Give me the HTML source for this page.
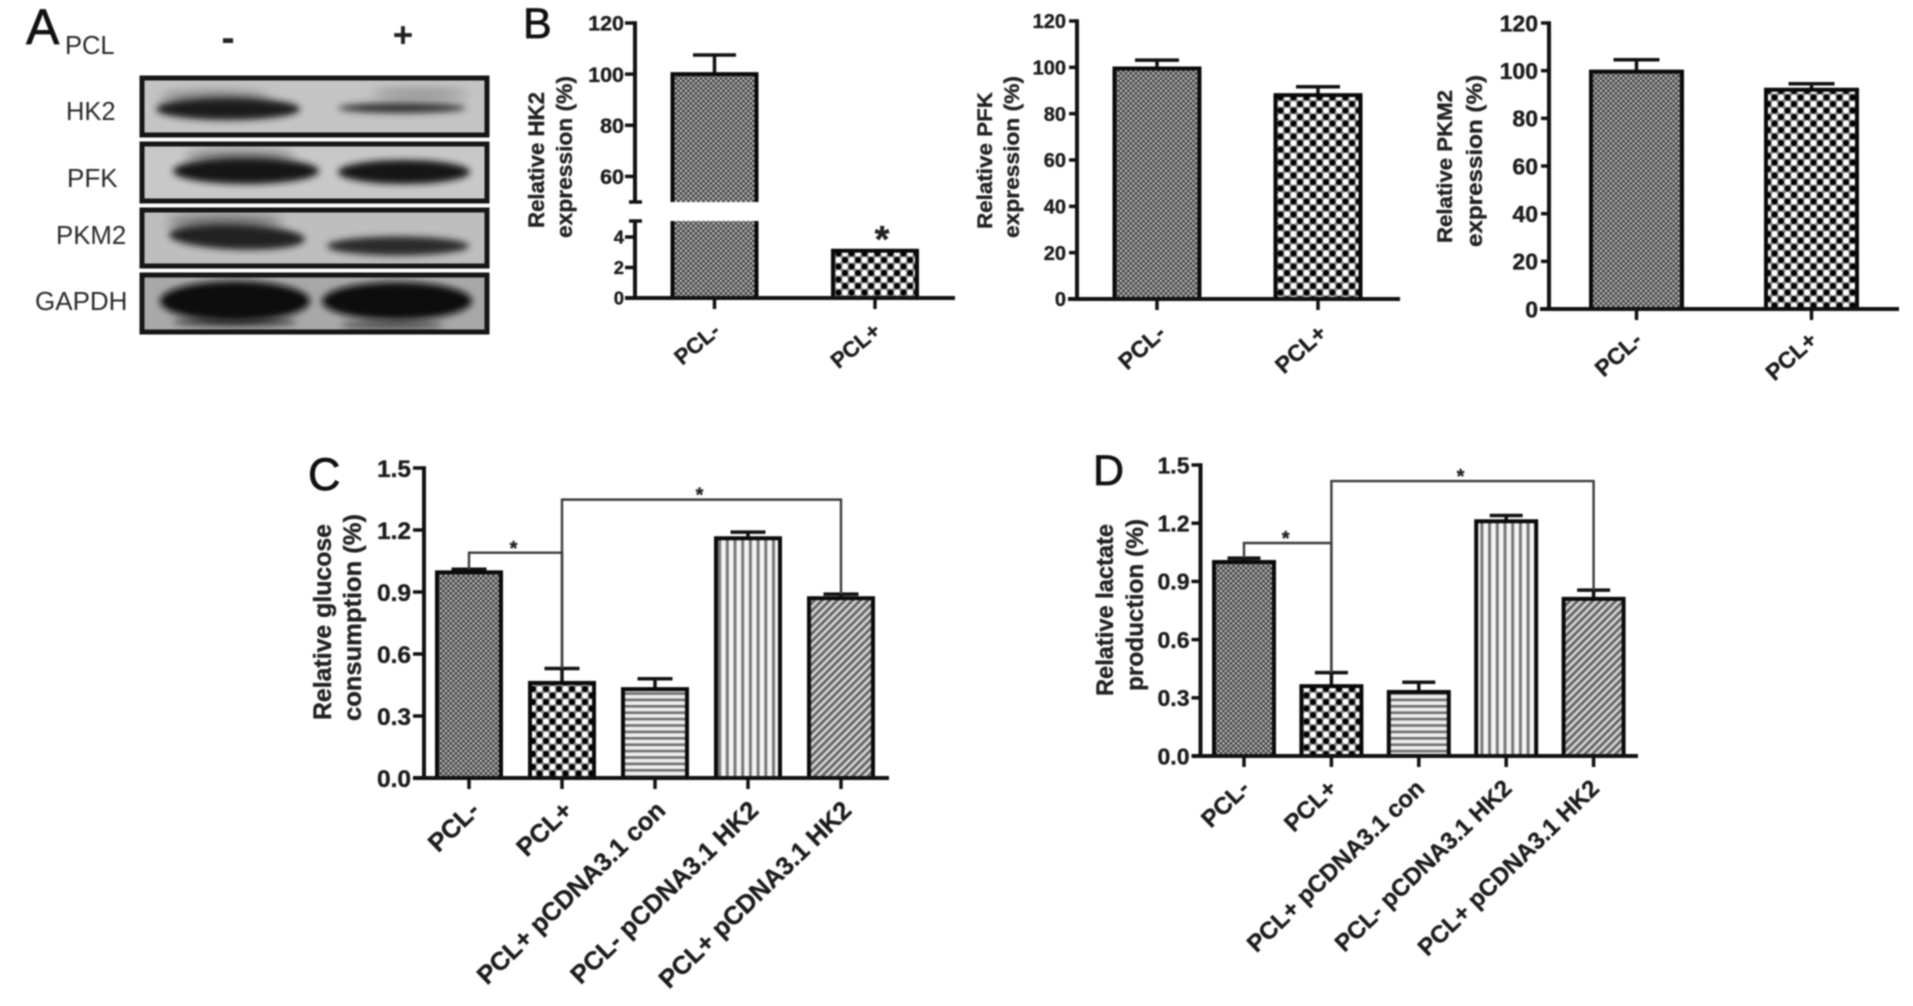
<!DOCTYPE html>
<html lang="en">
<head>
<meta charset="utf-8">
<title>Glycolytic enzyme expression, glucose consumption and lactate production</title>
<style>
html,body{margin:0;padding:0;background:#fff;width:1913px;height:1006px;overflow:hidden}
svg{display:block;font-family:"Liberation Sans",sans-serif}
#figure{filter:blur(.75px)}
#charts text{stroke:#1c1c1c;stroke-width:.35px}
.panel-letter{stroke:#111;stroke-width:.7px}
</style>
</head>
<body>
<svg id="figure" xmlns="http://www.w3.org/2000/svg" width="1913" height="1006" viewBox="0 0 1913 1006">
<defs>
<pattern id="p-dense" width="5" height="5" patternUnits="userSpaceOnUse">
<rect width="5" height="5" fill="#6a6a6a"/><rect x="0" y="0" width="1.7" height="1.7" fill="#d6d6d6"/><rect x="2.5" y="2.5" width="1.7" height="1.7" fill="#d6d6d6"/><rect x="2.5" y="0" width="2" height="2" fill="#444"/><rect x="0" y="2.5" width="2" height="2" fill="#444"/>
</pattern>
<pattern id="p-check" width="13" height="13" patternUnits="userSpaceOnUse">
<rect width="13" height="13" fill="#888"/>
<circle cx="0" cy="0" r="3" fill="#000"/><circle cx="13" cy="0" r="3" fill="#000"/><circle cx="0" cy="13" r="3" fill="#000"/><circle cx="13" cy="13" r="3" fill="#000"/><circle cx="6.5" cy="6.5" r="3" fill="#000"/>
<circle cx="6.5" cy="0" r="3" fill="#fff"/><circle cx="6.5" cy="13" r="3" fill="#fff"/><circle cx="0" cy="6.5" r="3" fill="#fff"/><circle cx="13" cy="6.5" r="3" fill="#fff"/>
</pattern>
<pattern id="p-horizontal" width="6.4" height="6.4" patternUnits="userSpaceOnUse">
<rect width="6.4" height="6.4" fill="#ececec"/><rect y="1" width="6.4" height="2.6" fill="#6e6e6e"/>
</pattern>
<pattern id="p-vertical" width="7.7" height="7.7" patternUnits="userSpaceOnUse">
<rect width="7.7" height="7.7" fill="#f4f4f4"/><rect x="2" width="3" height="7.7" fill="#777"/>
</pattern>
<pattern id="p-diagonal" width="5.4" height="5.4" patternUnits="userSpaceOnUse" patternTransform="rotate(45)">
<rect width="5.4" height="5.4" fill="#d8d8d8"/><rect x="0" width="2.9" height="5.4" fill="#666"/>
</pattern>
<filter id="blot-blur" x="-30%" y="-80%" width="160%" height="260%"><feGaussianBlur stdDeviation="3.4"/></filter>
<filter id="blot-blur-soft" x="-30%" y="-120%" width="160%" height="340%"><feGaussianBlur stdDeviation="5.5"/></filter>
<clipPath id="clip-b1"><rect x="140" y="76" width="349" height="60"/></clipPath>
<clipPath id="clip-b2"><rect x="140" y="142" width="349" height="60"/></clipPath>
<clipPath id="clip-b3"><rect x="140" y="208" width="349" height="59"/></clipPath>
<clipPath id="clip-b4"><rect x="140" y="273" width="349" height="60"/></clipPath>
</defs>
<rect width="1913" height="1006" fill="#fff"/>

<g>
<text class="panel-letter" x="26" y="44" font-size="50" fill="#111">A</text>
<text x="65" y="54" font-size="25.5" fill="#2a2a2a">PCL</text>
<text x="228" y="51" font-size="40" font-weight="bold" text-anchor="middle" fill="#222">-</text>
<text x="403" y="47" font-size="35" font-weight="bold" text-anchor="middle" fill="#222">+</text>
<text x="66" y="120" font-size="25.5" fill="#2a2a2a">HK2</text>
<text x="67" y="187" font-size="26" fill="#2a2a2a">PFK</text>
<text x="56" y="244" font-size="25.8" fill="#2a2a2a">PKM2</text>
<text x="35" y="310" font-size="26" fill="#2a2a2a">GAPDH</text>

<g clip-path="url(#clip-b1)">
<rect x="140" y="76" width="349" height="60" fill="#c4c4c4"/>
<ellipse cx="215" cy="98" rx="55" ry="7" fill="#808080" filter="url(#blot-blur-soft)"/>
<ellipse cx="420" cy="94" rx="48" ry="5" fill="#8e8e8e" filter="url(#blot-blur-soft)"/>
<ellipse cx="228" cy="109" rx="72" ry="11" fill="#1c1c1c" filter="url(#blot-blur)"/>
<ellipse cx="402" cy="108" rx="64" ry="5" fill="#333" filter="url(#blot-blur)"/>
</g>
<rect x="142" y="78" width="345" height="57" fill="none" stroke="#161616" stroke-width="5"/>

<g clip-path="url(#clip-b2)">
<rect x="140" y="142" width="349" height="60" fill="#c8c8c8"/>
<ellipse cx="240" cy="157" rx="55" ry="7" fill="#7c7c7c" filter="url(#blot-blur-soft)"/>
<ellipse cx="246" cy="171" rx="73" ry="13" fill="#161616" filter="url(#blot-blur)"/>
<ellipse cx="404" cy="172" rx="66" ry="12" fill="#181818" filter="url(#blot-blur)"/>
</g>
<rect x="142" y="144" width="345" height="57" fill="none" stroke="#161616" stroke-width="5"/>

<g clip-path="url(#clip-b3)">
<rect x="140" y="208" width="349" height="59" fill="#bebebe"/>
<ellipse cx="225" cy="222" rx="58" ry="7" fill="#6e6e6e" filter="url(#blot-blur-soft)"/>
<ellipse cx="237" cy="237" rx="68" ry="12.5" fill="#222" filter="url(#blot-blur)" transform="rotate(2 237 237)"/>
<ellipse cx="398" cy="246" rx="71" ry="9.5" fill="#2a2a2a" filter="url(#blot-blur)"/>
</g>
<rect x="142" y="210" width="345" height="56" fill="none" stroke="#161616" stroke-width="5"/>

<g clip-path="url(#clip-b4)">
<rect x="140" y="273" width="349" height="60" fill="#a8a8a8"/>
<ellipse cx="235" cy="322" rx="62" ry="5" fill="#4a4a4a" filter="url(#blot-blur)"/>
<ellipse cx="392" cy="325" rx="52" ry="4" fill="#505050" filter="url(#blot-blur)"/>
<ellipse cx="235" cy="301" rx="75" ry="20" fill="#101010" filter="url(#blot-blur)"/>
<ellipse cx="397" cy="301" rx="75" ry="19" fill="#101010" filter="url(#blot-blur)"/>
</g>
<rect x="142" y="275" width="345" height="57" fill="none" stroke="#161616" stroke-width="5"/>
</g>

<text class="panel-letter" x="523" y="38" font-size="43" fill="#111">B</text>
<text class="panel-letter" x="308" y="490" font-size="45" fill="#111">C</text>
<text class="panel-letter" x="1093" y="485" font-size="43" fill="#111">D</text>

<g id="charts"></g>
</svg>

<script>
/* HK2 panel data */
const hk2Categories = ["PCL-", "PCL+"];
const hk2Values = [100, 3.1];
const hk2Errors = [7.5, 0];
const hk2UpperTicks = [60, 80, 100, 120];
const hk2LowerTicks = [0, 2, 4];

/* PFK panel data */
const pfkCategories = ["PCL-", "PCL+"];
const pfkValues = [99.5, 88];
const pfkErrors = [3.6, 3.6];
const pfkTicks = [0, 20, 40, 60, 80, 100, 120];

/* PKM2 panel data */
const pkmCategories = ["PCL-", "PCL+"];
const pkmValues = [99.6, 92];
const pkmErrors = [5, 2.5];
const pkmTicks = [0, 20, 40, 60, 80, 100, 120];

/* Glucose panel data */
const glucoseCategories = ["PCL-", "PCL+", "PCL+ pCDNA3.1 con", "PCL- pCDNA3.1 HK2", "PCL+ pCDNA3.1 HK2"];
const glucoseValues = [0.995, 0.46, 0.43, 1.16, 0.87];
const glucoseErrors = [0.015, 0.07, 0.05, 0.03, 0.02];
const glucoseTicks = ["0.0", "0.3", "0.6", "0.9", "1.2", "1.5"];
const glucoseBracketFrom = [0, 1];
const glucoseBracketTo = [1, 4];
const glucoseBracketLevels = [1.09, 1.347];

/* Lactate panel data */
const lactateCategories = ["PCL-", "PCL+", "PCL+ pCDNA3.1 con", "PCL- pCDNA3.1 HK2", "PCL+ pCDNA3.1 HK2"];
const lactateValues = [1.0, 0.36, 0.33, 1.21, 0.81];
const lactateErrors = [0.02, 0.07, 0.05, 0.03, 0.045];
const lactateTicks = ["0.0", "0.3", "0.6", "0.9", "1.2", "1.5"];
const lactateBracketFrom = [0, 1];
const lactateBracketTo = [1, 4];
const lactateBracketLevels = [1.098, 1.417];

const fills = ["url(#p-dense)", "url(#p-check)", "url(#p-horizontal)", "url(#p-vertical)", "url(#p-diagonal)"];
const SVGNS = "http://www.w3.org/2000/svg";
const root = document.getElementById("charts");

function make(parent, tag, attrs, text) {
  const node = document.createElementNS(SVGNS, tag);
  for (const key in attrs) node.setAttribute(key, attrs[key]);
  if (text !== undefined) node.textContent = text;
  parent.appendChild(node);
  return node;
}
function linearScale(d0, d1, p0, p1) {
  return function (v) { return p0 + (v - d0) * (p1 - p0) / (d1 - d0); };
}

function drawTick(g, axisX, y, len, label, size, gap) {
  const tick = make(g, "line", { x1: axisX - len, x2: axisX, y1: y, y2: y, stroke: "#111", "stroke-width": 3.5 });
  
  
  const text = make(g, "text", { x: axisX - len - gap, y: y + size * 0.36, "font-size": size, "font-weight": "bold", "text-anchor": "end", fill: "#1c1c1c" }, label);
  
  
}

function drawTitle(g, lines) {
  lines.forEach(function (l) {
    const cy = (l.y0 + l.y1) / 2;
    const t = make(g, "text", {
      x: l.x, y: cy, transform: "rotate(-90 " + l.x + " " + cy + ")",
      "font-size": l.size, "font-weight": "bold", "text-anchor": "middle", fill: "#222",
      textLength: l.y1 - l.y0, lengthAdjust: "spacingAndGlyphs"
    }, l.text);
    
    
  });
}

function drawCategoryLabels(g, categories, xScale, axisY, opt) {
  categories.forEach(function (c, i) {
    const x = xScale(i) + opt.dx, y = axisY + opt.dy;
    const t = make(g, "text", {
      x: x, y: y, transform: "rotate(" + opt.angle + " " + x + " " + y + ")",
      "font-size": opt.size, "font-weight": "bold", "text-anchor": "end", fill: "#1c1c1c"
    }, c);
    
    
    const tick = make(g, "line", { x1: xScale(i), x2: xScale(i), y1: axisY, y2: axisY + opt.tick, stroke: "#111", "stroke-width": 3.5 });
    
    
  });
}

function drawBarRect(g, cx, w, yTop, yBottom, fill, closedBottom) {
  const r = make(g, "rect", { x: cx - w / 2, y: yTop, width: w, height: yBottom - yTop, fill: fill, stroke: closedBottom ? "#0a0a0a" : "none", "stroke-width": 4 });
  
  
  return r;
}

function drawError(g, cx, yBar, yErr, capW, sw) {
  if (Math.abs(yBar - yErr) < 0.5) return;
  const v = make(g, "line", { x1: cx, x2: cx, y1: yBar, y2: yErr, stroke: "#111", "stroke-width": sw });
  
  
  const c = make(g, "line", { x1: cx - capW / 2, x2: cx + capW / 2, y1: yErr, y2: yErr, stroke: "#111", "stroke-width": sw });
  
  
}

function drawAxes(g, axisX, yTop, axisY, x0, x1) {
  const yAxis = make(g, "line", { x1: axisX, x2: axisX, y1: yTop - 1.7, y2: axisY + 2, stroke: "#111", "stroke-width": 4 });
  
  
  const xAxis = make(g, "line", { x1: x0, x2: x1, y1: axisY, y2: axisY, stroke: "#111", "stroke-width": 4 });
  
  
}

function drawStandardPanel(name, categories, values, errors, ticks, o) {
  const g = make(root, "g", {});
  
  
  const tickNumbers = ticks.map(Number);
  const y = linearScale(0, tickNumbers[tickNumbers.length - 1], o.y0, o.y1);
  const x = function (i) { return o.first + i * o.step; };
  categories.forEach(function (c, i) {
    drawError(g, x(i), y(values[i]), y(values[i] + errors[i]), o.capW, o.errW);
    drawBarRect(g, x(i), o.barW, y(values[i]), o.y0, fills[i], true);
  });
  drawAxes(g, o.axisX, o.y1, o.y0, o.x0, o.x1);
  ticks.forEach(function (t) { drawTick(g, o.axisX, y(Number(t)), o.tickLen, String(t), o.tickSize, o.tickGap); });
  drawCategoryLabels(g, categories, x, o.y0, o.labels);
  drawTitle(g, o.title);
  return { g: g, x: x, y: y };
}

function drawBrackets(panel, from, to, levels, values, errors, starSize) {
  levels.forEach(function (level, k) {
    const a = from[k], b = to[k];
    const ya = panel.y(values[a] + errors[a]), yb = panel.y(values[b] + errors[b]), yl = panel.y(level);
    const p = make(panel.g, "path", {
      d: "M" + panel.x(a) + " " + ya + "V" + yl + "H" + panel.x(b) + "V" + yb,
      fill: "none", stroke: "#3c3c3c", "stroke-width": 2.4
    });
    
    
    const s = make(panel.g, "text", {
      x: (panel.x(a) + panel.x(b)) / 2 - 2, y: yl - 9.5 + starSize * 0.58,
      "font-size": starSize, "font-weight": "bold", "text-anchor": "middle", fill: "#222"
    }, "*");
    
    
  });
}

/* Broken-axis HK2 panel */
(function () {
  const g = make(root, "g", {});
  
  
  const axisX = 635, axisY = 298, breakLow = 221, breakHigh = 202, axisTop = 23;
  const lower = linearScale(0, 5.05, axisY, breakLow);
  const upper = linearScale(50, 120, breakHigh, axisTop);
  const y = function (v) { return v <= 5.05 ? lower(v) : upper(v); };
  const x = function (i) { return 714.5 + i * 160.5; };
  const barW = 84;
  hk2Categories.forEach(function (c, i) {
    const v = hk2Values[i];
    drawError(g, x(i), y(v), y(v + hk2Errors[i]), 43, 3.5);
    if (v > 5.05) {
      const top = drawBarRect(g, x(i), barW, y(v), breakHigh, fills[i], false);
      
      const bottom = drawBarRect(g, x(i), barW, breakLow, axisY, fills[i], false);
      
      const edge = make(g, "path", {
        d: "M" + (x(i) - barW / 2) + " " + breakHigh + "V" + y(v) + "H" + (x(i) + barW / 2) + "V" + breakHigh +
           "M" + (x(i) - barW / 2) + " " + breakLow + "V" + axisY + "M" + (x(i) + barW / 2) + " " + breakLow + "V" + axisY,
        fill: "none", stroke: "#0a0a0a", "stroke-width": 4
      });
      
      
    } else {
      drawBarRect(g, x(i), barW, y(v), axisY, fills[i], true);
    }
  });
  const upperAxis = make(g, "line", { x1: axisX, x2: axisX, y1: axisTop - 1.7, y2: breakHigh, stroke: "#111", "stroke-width": 4 });
  
  
  const lowerAxis = make(g, "line", { x1: axisX, x2: axisX, y1: breakLow, y2: axisY + 2, stroke: "#111", "stroke-width": 4 });
  
  
  [breakHigh, breakLow].forEach(function (b) {
    const cap = make(g, "line", { x1: axisX - 6, x2: axisX + 7, y1: b, y2: b, stroke: "#111", "stroke-width": 3.5 });
    
    
  });
  const xAxis = make(g, "line", { x1: 625, x2: 955, y1: axisY, y2: axisY, stroke: "#111", "stroke-width": 4 });
  
  
  hk2UpperTicks.forEach(function (t) { drawTick(g, axisX, y(t), 10, String(t), 21.5, 1); });
  hk2LowerTicks.forEach(function (t) { drawTick(g, axisX, y(t), 10, String(t), 18.5, 1); });
  drawCategoryLabels(g, hk2Categories, x, axisY, { dx: 7, dy: 35, angle: -40, size: 22, tick: 11 });
  drawTitle(g, [
    { text: "Relative HK2", x: 544, y0: 92, y1: 228, size: 22 },
    { text: "expression (%)", x: 572, y0: 76, y1: 238, size: 22 }
  ]);
  const star = make(g, "text", { x: 882, y: 252, "font-size": 38, "font-weight": "bold", "text-anchor": "middle", fill: "#222" }, "*");
  
  
})();

drawStandardPanel("pfk-chart", pfkCategories, pfkValues, pfkErrors, pfkTicks, {
  axisX: 1077, y0: 299, y1: 21, x0: 1068, x1: 1400, first: 1157, step: 161, barW: 85, capW: 44, errW: 3.5,
  tickLen: 8, tickSize: 20, tickGap: 3,
  labels: { dx: 10, dy: 36, angle: -42, size: 23, tick: 11 },
  title: [
    { text: "Relative PFK", x: 992, y0: 92, y1: 229, size: 21 },
    { text: "expression (%)", x: 1019, y0: 76, y1: 238, size: 21 }
  ]
});

drawStandardPanel("pkm2-chart", pkmCategories, pkmValues, pkmErrors, pkmTicks, {
  axisX: 1549, y0: 309, y1: 23, x0: 1540, x1: 1899, first: 1636.5, step: 175, barW: 91, capW: 46, errW: 3.5,
  tickLen: 8, tickSize: 23, tickGap: 3,
  labels: { dx: 7, dy: 33, angle: -42, size: 23, tick: 11 },
  title: [
    { text: "Relative PKM2", x: 1452, y0: 90, y1: 243, size: 21 },
    { text: "expression (%)", x: 1482, y0: 75, y1: 247, size: 22 }
  ]
});

const glucosePanel = drawStandardPanel("glucose-chart", glucoseCategories, glucoseValues, glucoseErrors, glucoseTicks, {
  axisX: 424, y0: 778, y1: 468, x0: 413, x1: 889, first: 469, step: 93, barW: 64, capW: 35, errW: 3.5,
  tickLen: 11, tickSize: 24.5, tickGap: 2,
  labels: { dx: 12, dy: 34, angle: -44, size: 25.5, tick: 11 },
  title: [
    { text: "Relative glucose", x: 331, y0: 524, y1: 720, size: 25 },
    { text: "consumption (%)", x: 361, y0: 514, y1: 721, size: 25 }
  ]
});
drawBrackets(glucosePanel, glucoseBracketFrom, glucoseBracketTo, glucoseBracketLevels, glucoseValues, glucoseErrors, 20);

const lactatePanel = drawStandardPanel("lactate-chart", lactateCategories, lactateValues, lactateErrors, lactateTicks, {
  axisX: 1200.5, y0: 756, y1: 465, x0: 1192, x1: 1638, first: 1244, step: 87.4, barW: 60, capW: 33, errW: 3.5,
  tickLen: 9, tickSize: 23, tickGap: 2,
  labels: { dx: 7, dy: 34, angle: -44, size: 24, tick: 11 },
  title: [
    { text: "Relative lactate", x: 1113, y0: 524, y1: 696, size: 24 },
    { text: "production (%)", x: 1143, y0: 519, y1: 691, size: 24 }
  ]
});
drawBrackets(lactatePanel, lactateBracketFrom, lactateBracketTo, lactateBracketLevels, lactateValues, lactateErrors, 20);
</script>
</body>
</html>
